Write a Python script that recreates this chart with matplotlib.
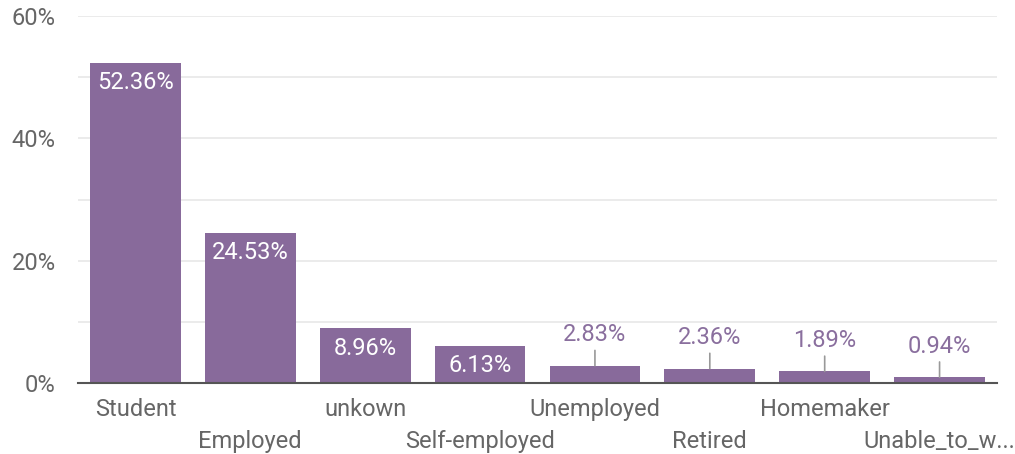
import matplotlib.pyplot as plt
from matplotlib.ticker import MultipleLocator, FuncFormatter

plt.rcParams['font.family'] = ['Roboto', 'DejaVu Sans']

categories = ["Student", "Employed", "unkown", "Self-employed", "Unemployed",
              "Retired", "Homemaker", "Unable_to_w..."]
shares = [52.36, 24.53, 8.96, 6.13, 2.83, 2.36, 1.89, 0.94]

bar_color = "#886a9b"
text_gray = "#666666"
fs = 17

fig = plt.figure(figsize=(10.15, 4.54), dpi=100)
ax = fig.add_axes([78 / 1015, 71 / 454, 919 / 1015, 367 / 454])

x = list(range(len(categories)))
bars = ax.bar(x, shares, width=0.79, color=bar_color, zorder=2)

ax.set_xlim(-0.5, len(categories) - 0.5)
ax.set_ylim(0, 60)

# gridlines every 10%, labels every 20%
ax.yaxis.set_major_locator(MultipleLocator(20))
ax.yaxis.set_minor_locator(MultipleLocator(10))
ax.yaxis.set_major_formatter(FuncFormatter(lambda v, p: f"{v:.0f}%"))
ax.grid(axis="y", which="both", color="#e8e8e8", linewidth=1.2, zorder=0)
ax.tick_params(axis="y", which="both", length=0, pad=16, labelsize=fs,
               labelcolor=text_gray)

ax.set_xticks(x)
ax.set_xticklabels(categories)
ax.tick_params(axis="x", length=0, labelsize=fs, labelcolor=text_gray)
for i, tick in enumerate(ax.xaxis.get_major_ticks()):
    tick.set_pad(11 if i % 2 == 0 else 34)

for side in ["top", "right", "left"]:
    ax.spines[side].set_visible(False)
ax.spines["bottom"].set_color("#555555")
ax.spines["bottom"].set_linewidth(1.5)
ax.spines["bottom"].set_zorder(3)

# value labels: inside large bars, above small ones with a leader line
for xi, v in zip(x, shares):
    label = f"{v:.2f}%"
    if v > 5:
        ax.annotate(label, (xi, v), xytext=(0, -6), textcoords="offset points",
                    ha="center", va="top", fontsize=fs, color="white", zorder=4)
    else:
        ax.annotate(label, (xi, v), xytext=(0, 14), textcoords="offset points",
                    ha="center", va="bottom", fontsize=fs, color="#8a6f9e",
                    zorder=4,
                    arrowprops=dict(arrowstyle="-", color="#999999", lw=1.2,
                                    shrinkA=1, shrinkB=0))

fig.savefig("out.png", dpi=100)
